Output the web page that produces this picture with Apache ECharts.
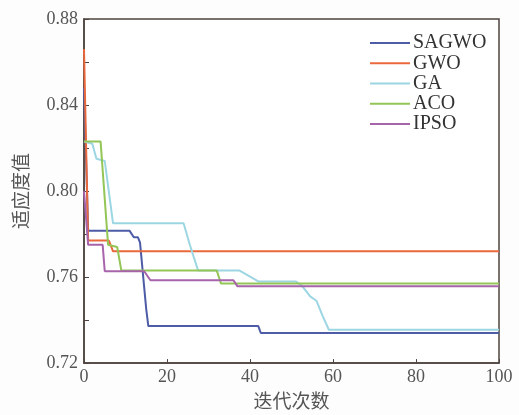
<!DOCTYPE html>
<html><head><meta charset="utf-8">
<script src="https://cdn.jsdelivr.net/npm/echarts@6/dist/echarts.min.js"></script>
<style>html,body{margin:0;padding:0;background:#fdfdfd}#c{width:519px;height:415px}</style>
</head><body><div id="c"></div>
<script>
var seriesNames = ['SAGWO', 'GWO', 'GA', 'ACO', 'IPSO'];
var sagwoX = [0, 1, 11, 12, 13, 13.5, 15, 15.5, 42, 42.6, 100];
var sagwoY = [0.848, 0.7815, 0.7815, 0.7785, 0.7785, 0.776, 0.745, 0.7372, 0.7372, 0.734, 0.734];
var gwoX = [0, 1, 6, 7, 100];
var gwoY = [0.866, 0.777, 0.777, 0.772, 0.772];
var gaX = [0, 2, 3, 5, 7, 24, 25.5, 27.5, 37.5, 42, 51, 52.5, 54.5, 56, 57.5, 59, 100];
var gaY = [0.823, 0.822, 0.815, 0.814, 0.785, 0.785, 0.775, 0.763, 0.763, 0.758, 0.758, 0.756, 0.751, 0.749, 0.742, 0.7355, 0.7355];
var acoX = [0, 4, 5.8, 8, 9, 32, 33, 100];
var acoY = [0.823, 0.823, 0.775, 0.774, 0.763, 0.763, 0.757, 0.757];
var ipsoX = [0, 1, 4.5, 5, 14.5, 16, 36, 37, 100];
var ipsoY = [0.800, 0.775, 0.775, 0.7627, 0.7627, 0.7585, 0.7585, 0.7557, 0.7557];
var colors = ['#4e5ba6', '#e9683c', '#9dd6e3', '#93c657', '#a864ab'];

function pairs(xs, ys) { return xs.map(function (x, i) { return [x, ys[i]]; }); }
var allX = [sagwoX, gwoX, gaX, acoX, ipsoX];
var allY = [sagwoY, gwoY, gaY, acoY, ipsoY];

var chart = echarts.init(document.getElementById('c'));
var serif = 'Liberation Serif';
chart.setOption({
  backgroundColor: '#fdfdfd',
  animation: false,
  grid: { left: 84, right: 20, top: 19, bottom: 50, show: true, borderColor: '#4e433f', borderWidth: 1.5, backgroundColor: '#ffffff' },
  legend: {
    orient: 'vertical', left: 365, top: 28,
    data: seriesNames,
    icon: 'rect', itemWidth: 40, itemHeight: 2, itemGap: 0.25,
    textStyle: { fontFamily: serif, fontSize: 20, color: '#333', lineHeight: 18, padding: [0, 0, 0, -2] }
  },
  xAxis: {
    type: 'value', min: 0, max: 100, interval: 20,
    axisLine: { lineStyle: { color: '#4e433f', width: 1.5 } },
    axisTick: { inside: true, length: 4, lineStyle: { color: '#4e433f' } },
    axisLabel: { fontFamily: serif, fontSize: 18, color: '#555', margin: 5 },
    splitLine: { show: false },
    name: '迭代次数', nameLocation: 'middle', nameGap: 27,
    nameTextStyle: { fontFamily: 'Noto Sans CJK SC', fontSize: 19, color: '#555' }
  },
  yAxis: {
    type: 'value', min: 0.72, max: 0.88, interval: 0.02,
    axisLine: { lineStyle: { color: '#4e433f', width: 1.5 } },
    axisTick: { inside: true, length: 5, lineStyle: { color: '#4e433f' } },
    axisLabel: {
      fontFamily: serif, fontSize: 18, color: '#555', margin: 6,
      formatter: function (v) { var k = Math.round(v * 100); return k % 4 === 0 ? v.toFixed(2) : ''; }
    },
    splitLine: { show: false },
    name: '适应度值', nameLocation: 'middle', nameGap: 54, nameRotate: 90,
    nameTextStyle: { fontFamily: 'Noto Sans CJK SC', fontSize: 19, color: '#555' }
  },
  series: seriesNames.map(function (n, i) {
    return {
      name: n, type: 'line', data: pairs(allX[i], allY[i]),
      showSymbol: false, symbol: 'none', color: colors[i],
      lineStyle: { width: 2, color: colors[i] }
    };
  })
});
</script></body></html>
